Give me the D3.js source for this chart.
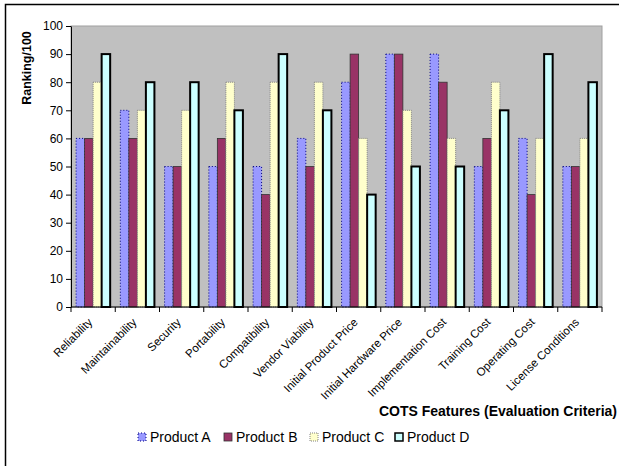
<!DOCTYPE html>
<html>
<head>
<meta charset="utf-8">
<script src="https://cdn.jsdelivr.net/npm/d3@7"></script>
<style>
  body { margin: 0; background: #fff; }
  text { font-family: Arial, "Liberation Sans", sans-serif; }
</style>
</head>
<body>
<div id="chart"></div>
<script>
var categories = ["Reliability", "Maintainability", "Security", "Portability",
  "Compatibility", "Vendor Viability", "Initial Product Price", "Initial Hardware Price",
  "Implementation Cost", "Training Cost", "Operating Cost", "License Conditions"];
var seriesNames = ["Product A", "Product B", "Product C", "Product D"];
var productA = [60, 70, 50, 50, 50, 60, 80, 90, 90, 50, 60, 50];
var productB = [60, 60, 50, 60, 40, 50, 90, 90, 80, 60, 40, 50];
var productC = [80, 70, 70, 80, 80, 80, 60, 70, 60, 80, 60, 60];
var productD = [90, 80, 80, 70, 90, 70, 40, 50, 50, 70, 90, 80];
var yTicks = [0, 10, 20, 30, 40, 50, 60, 70, 80, 90, 100];

var width = 619, height = 466;
var margin = { top: 26, left: 71, right: 17, bottom: 159 };

// series look, Excel 97 style
var styles = [
  { fill: "#9999ff", stroke: "#000080", sw: 1, dash: "1,2" },
  { fill: "#993366", stroke: "#333333", sw: 0.8, dash: null },
  { fill: "#ffffcc", stroke: "#808080", sw: 1, dash: "1,1" },
  { fill: "#ccffff", stroke: "#000000", sw: 2, dash: null }
];

var rows = categories.map(function (c, i) {
  return { cat: c, vals: [productA[i], productB[i], productC[i], productD[i]] };
});

var svg = d3.select("#chart").append("svg")
  .attr("width", width)
  .attr("height", height);

// outer frame (cropped at right and bottom)
svg.append("rect")
  .attr("x", 5.5).attr("y", 4.5)
  .attr("width", width + 10).attr("height", height + 10)
  .attr("fill", "none").attr("stroke", "#000").attr("stroke-width", 1.5);

var plotW = width - margin.left - margin.right;
var plotH = height - margin.top - margin.bottom;

var x0 = d3.scaleBand().domain(categories).range([0, plotW]).paddingInner(0.23).paddingOuter(0.115);
var x1 = d3.scaleBand().domain(seriesNames).range([0, x0.bandwidth()]);
var xCat = d3.scaleBand().domain(categories).range([0, plotW]);
var y = d3.scaleLinear().domain([0, 100]).range([plotH, 0]);

var g = svg.append("g").attr("transform", "translate(" + margin.left + "," + margin.top + ")");

g.append("rect")
  .attr("width", plotW).attr("height", plotH)
  .attr("fill", "#c0c0c0").attr("stroke", "#a0a0a0").attr("stroke-width", 1);

var groups = g.selectAll(".grp")
  .data(rows)
  .enter().append("g")
  .attr("class", "grp")
  .attr("transform", function (d) { return "translate(" + x0(d.cat) + ",0)"; });

groups.selectAll("rect")
  .data(function (d) { return d.vals.map(function (v, k) { return { k: k, v: v }; }); })
  .enter().append("rect")
  .attr("x", function (d) { return x1(seriesNames[d.k]); })
  .attr("y", function (d) { return y(d.v); })
  .attr("width", x1.bandwidth())
  .attr("height", function (d) { return plotH - y(d.v); })
  .attr("fill", function (d) { return styles[d.k].fill; })
  .attr("stroke", function (d) { return styles[d.k].stroke; })
  .attr("stroke-width", function (d) { return styles[d.k].sw; })
  .attr("stroke-dasharray", function (d) { return styles[d.k].dash; });

// y axis
var yAxis = d3.axisLeft(y).tickValues(yTicks).tickSize(5).tickSizeOuter(0);
var gY = g.append("g").call(yAxis);
gY.select(".domain").attr("stroke", "#000");
gY.selectAll("text").attr("font-size", "12px").attr("fill", "#000").attr("x", -8);

// x axis: ticks at category boundaries
var gX = g.append("g").attr("transform", "translate(0," + plotH + ")");
gX.append("line").attr("x1", 0).attr("x2", plotW).attr("stroke", "#000");
gX.selectAll(".tk")
  .data(d3.range(categories.length + 1))
  .enter().append("line")
  .attr("x1", function (i) { return i * xCat.step(); })
  .attr("x2", function (i) { return i * xCat.step(); })
  .attr("y1", 0).attr("y2", 5)
  .attr("stroke", "#000");
gX.selectAll(".lbl")
  .data(categories)
  .enter().append("text")
  .attr("transform", function (d) {
    return "translate(" + (xCat(d) + xCat.bandwidth() / 2 - 3) + ",13) rotate(-45)";
  })
  .attr("text-anchor", "end")
  .attr("dy", "0.35em")
  .attr("font-size", "11.5px")
  .text(function (d) { return d; });

// axis titles
svg.append("text")
  .attr("transform", "translate(31,68) rotate(-90)")
  .attr("text-anchor", "middle")
  .attr("font-size", "12.5px")
  .attr("font-weight", "bold")
  .text("Ranking/100");

svg.append("text")
  .attr("x", 617).attr("y", 416)
  .attr("text-anchor", "end")
  .attr("font-size", "14px")
  .attr("font-weight", "bold")
  .text("COTS Features (Evaluation Criteria)");

// legend
var legX = [138, 224, 310, 395];
var leg = svg.selectAll(".leg")
  .data(seriesNames)
  .enter().append("g")
  .attr("transform", function (d, i) { return "translate(" + legX[i] + ",433)"; });
leg.append("rect")
  .attr("width", 8).attr("height", 8)
  .attr("fill", function (d, i) { return styles[i].fill; })
  .attr("stroke", function (d, i) { return styles[i].stroke; })
  .attr("stroke-width", function (d, i) { return Math.min(styles[i].sw, 1.5); })
  .attr("stroke-dasharray", function (d, i) { return styles[i].dash; });
leg.append("text")
  .attr("x", 12).attr("y", 9)
  .attr("font-size", "14px")
  .text(function (d) { return d; });
</script>
</body>
</html>
